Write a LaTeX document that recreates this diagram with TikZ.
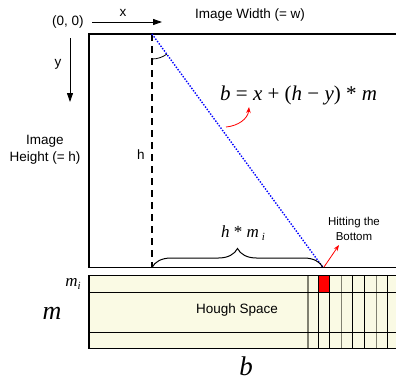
\documentclass[tikz,border=0pt]{standalone}
\usepackage{fontspec}
\setmainfont{Liberation Sans}
\newfontfamily\tms{Liberation Serif}
\usetikzlibrary{arrows.meta,decorations.pathreplacing}
\definecolor{houghfill}{RGB}{250,250,228}
\definecolor{gridgray}{RGB}{128,128,112}
\begin{document}
\begin{tikzpicture}[x=1pt,y=-1pt,
  every node/.style={inner sep=0pt, align=center},
  sans/.style={font=\fontsize{13.5}{17}\selectfont},
  small/.style={font=\fontsize{11.5}{15}\selectfont},
  frame/.style={line width=1.5pt},
  gridline/.style={line width=1pt},
  axisarrow/.style={line width=0.9pt,-{Triangle[length=9pt,width=6pt]}},
  redarrow/.style={red,line width=0.8pt,-{Stealth[length=6pt,width=4.5pt]}}]
\useasboundingbox (0,0) rectangle (396,381);
% coordinates
\coordinate (TL) at (89,34);
\coordinate (BR) at (402,267.5);
\coordinate (P) at (152,34);
\coordinate (Q) at (152,267.5);
\coordinate (H) at (323,267.5);
% image frame
\draw[frame] (TL) rectangle (BR);
% dashed vertical
\draw[line width=1.4pt, dash pattern=on 7pt off 5pt] (P) -- (Q);
% blue dotted line
\draw[blue, line width=1.4pt, dash pattern=on 1.4pt off 1.5pt] (P) -- (H);
% angle arc
\draw[line width=0.8pt] (152,59) arc[start angle=90,end angle=53.7,radius=25];
% brace
\draw[line width=1pt, decorate, decoration={brace, amplitude=19pt}] (Q) -- (H);
% labels
\node[sans] (origin) at (68,22) {(0, 0)};
\node[sans] (xl) at (123,13) {x};
\node[sans] (wl) at (250,15) {Image Width (= w)};
\node[sans] (yl) at (58,64) {y};
\node[sans] (hlab) at (45,149.5) {Image\\Height (= h)};
\node[sans] (hl) at (141,155) {h};
\coordinate (xa) at (92,22);
\coordinate (xb) at (162,22);
\coordinate (ya) at (70,38);
\coordinate (yb) at (70,102);
\draw[axisarrow] (xa) -- (xb);
\draw[axisarrow] (ya) -- (yb);
% equation
\node[font=\tms\fontsize{21}{24}\selectfont, anchor=west] (eq) at (220,95)
  {\textit{b} = \textit{x} + (\textit{h} − \textit{y}) * \textit{m}};
\coordinate (ca) at (226,127);
\coordinate (cb) at (249,107);
\draw[redarrow] (ca) to[out=5,in=-95] (cb);
% h * m_i
\node[font=\tms\itshape\fontsize{17}{20}\selectfont] (hm) at (243,233)
  {h \upshape*\itshape{} m\,\raisebox{-3pt}{\fontsize{11}{12}\selectfont i}};
% hitting the bottom
\node[small] (hit) at (354,229) {Hitting the\\Bottom};
\coordinate (ha) at (324,267);
\coordinate (hb) at (339,245);
\draw[redarrow] (ha) -- (hb);
% Hough space
\fill[houghfill] (89,275.7) rectangle (402,348.5);
\fill[red] (318.5,275.7) rectangle (329.5,292.3);
\foreach \xx in {308,341.3,376.3}
  \draw[gridgray, line width=1.3pt] (\xx,275.7) -- (\xx,348.5);
\foreach \xx in {318.5,329.5,352.7,364.3,387.7}
  \draw[gridline] (\xx,275.7) -- (\xx,348.5);
\foreach \yy in {292.3,332.3}
  \draw[gridline] (89,\yy) -- (402,\yy);
\draw[line width=1.2pt] (402,275.7) -- (89,275.7) -- (89,348.5) -- (402,348.5);
\node[sans] (hs) at (237,310) {Hough Space};
\node[font=\tms\itshape\fontsize{17}{20}\selectfont] (mi) at (73,284) {m\raisebox{-3pt}{\fontsize{11}{12}\selectfont i}};
\node[font=\tms\itshape\fontsize{26}{28}\selectfont] (ml) at (52,313) {m};
\node[font=\tms\itshape\fontsize{27}{29}\selectfont] (bl) at (246,366) {b};
\end{tikzpicture}
\end{document}
